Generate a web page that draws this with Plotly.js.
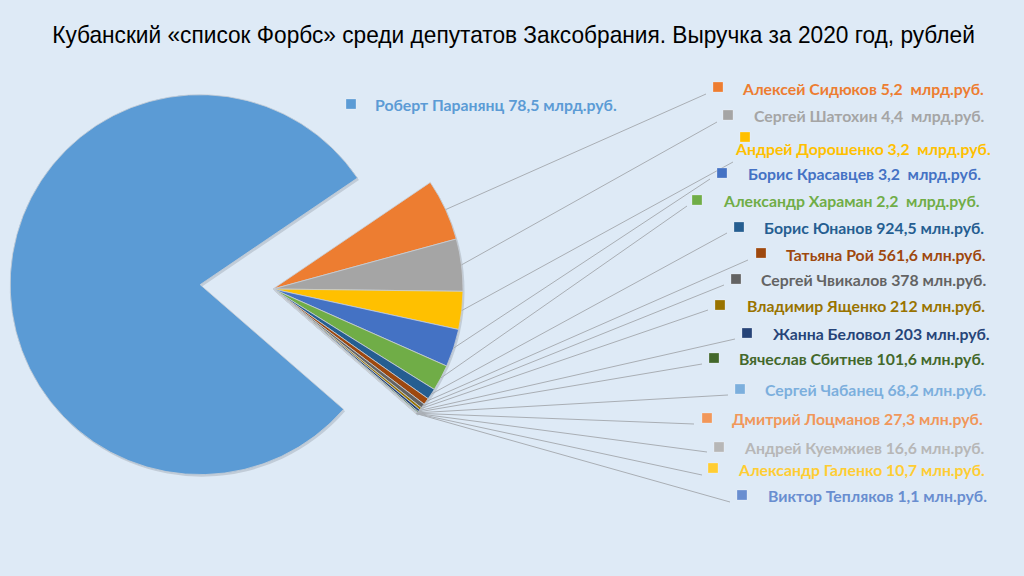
<!DOCTYPE html>
<html><head><meta charset="utf-8">
<script src="https://cdn.plot.ly/plotly-3.0.1.min.js"></script>
<style>html,body{margin:0;padding:0;background:#DEEAF6;}</style>
</head><body><div id="chart" style="width:1024px;height:576px;"></div>
<script>
// Data (values in billions of rubles)
const names = ["Роберт Паранянц","Алексей Сидюков","Сергей Шатохин","Андрей Дорошенко","Борис Красавцев","Александр Хараман","Борис Юнанов","Татьяна Рой","Сергей Чвикалов","Владимир Ященко","Жанна Беловол","Вячеслав Сбитнев","Сергей Чабанец","Дмитрий Лоцманов","Андрей Куемжиев","Александр Галенко","Виктор Тепляков"];
const values = [78.5, 5.2, 4.4, 3.2, 3.2, 2.2, 0.9245, 0.5616, 0.378, 0.212, 0.203, 0.1016, 0.0682, 0.0273, 0.0166, 0.0107, 0.0011];
const valueLabels = ["78,5 млрд.руб.","5,2\u00a0 млрд.руб.","4,4\u00a0 млрд.руб.","3,2\u00a0 млрд.руб.","3,2\u00a0 млрд.руб.","2,2\u00a0 млрд.руб.","924,5 млн.руб.","561,6 млн.руб.","378 млн.руб.","212 млн.руб.","203 млн.руб.","101,6 млн.руб.","68,2 млн.руб.","27,3 млн.руб.","16,6 млн.руб.","10,7 млн.руб.","1,1 млн.руб."];
const colors = ["#5B9BD5","#ED7D31","#A5A5A5","#FFC000","#4472C4","#70AD47","#255E91","#9E480E","#636363","#997300","#264478","#43682B","#7CAFDD","#F1975A","#B7B7B7","#FFCD33","#698ED0"];
const titleText = "Кубанский «список Форбс» среди депутатов Заксобрания. Выручка за 2020 год, рублей";

// Layout of label column (pixels): text x, text y, square x, square y, leader end x, leader end y
const labelLayout = [
  [373,104,351,104,null,null],
  [740,88,718,87,706,94],
  [752,115,728,115,717,122],
  [733,148,745,137,733,162],
  [746,173,722,173,710,179],
  [721,200,697,200,687,206],
  [762,227,739,227,727,233],
  [784,254,761,253,748,260],
  [759,279,736,279,724,285],
  [745,305,720,305,708,310],
  [771,333,747,333,735,339],
  [737,358,714,358,702,364],
  [763,389,740,389,728,395],
  [730,418,707,418,694,424],
  [742,447,719,447,707,452],
  [736,469,713,468,702,475],
  [766,495,742,495,730,502]
];

const W=1024, H=576, CX=273, CY=289, R=190, PULL=0.384, ROT=131;
const half = R*(1+PULL);
const domain = {x:[(CX-half)/W,(CX+half)/W], y:[(H-CY-half)/H,(H-CY+half)/H]};
const px = x => x/W, py = y => 1-y/H;

const pie = {
  type:'pie', values:values, labels:names, sort:false, direction:'clockwise', rotation:ROT,
  pull: values.map((v,i)=> i===0?PULL:0),
  marker:{colors:colors, line:{color:'#C8CED6', width:0.8}},
  textinfo:'none', hoverinfo:'label+value', domain:domain, showlegend:false
};
const shadow = {
  type:'pie', values:values, labels:names, sort:false, direction:'clockwise', rotation:ROT,
  pull: values.map((v,i)=> i===0?PULL:0),
  marker:{colors:values.map(()=> 'rgba(90,100,110,0.22)'), line:{width:0}},
  textinfo:'none', hoverinfo:'skip', showlegend:false,
  domain:{x:[domain.x[0]+1.5/W, domain.x[1]+1.5/W], y:[domain.y[0]-2/H, domain.y[1]-2/H]}
};

const total = values.reduce((a,b)=>a+b,0);
let cum = 0; const mids = [];
values.forEach(v => { mids.push(ROT + (cum + v/2)/total*360); cum += v; });

const shapes = [], annotations = [];
values.forEach((v,i) => {
  const L = labelLayout[i];
  if (L[4] !== null) {
    const a = mids[i]*Math.PI/180;
    const sx = CX + R*Math.sin(a), sy = CY - R*Math.cos(a);
    shapes.push({type:'line', xref:'paper', yref:'paper', x0:px(sx), y0:py(sy), x1:px(L[4]), y1:py(L[5]),
      line:{color:'#A9AEB4', width:1}});
  }
  shapes.push({type:'rect', xref:'paper', yref:'paper', x0:px(L[2]-5), x1:px(L[2]+5), y0:py(L[3]-5), y1:py(L[3]+5),
    fillcolor:colors[i], line:{color:'rgba(255,255,255,0.5)', width:0.5}});
  annotations.push({xref:'paper', yref:'paper', x:px(L[0]), y:py(L[1]), xanchor:'left', yanchor:'middle',
    showarrow:false, text:'<b>'+names[i]+' '+valueLabels[i]+'</b>',
    font:{family:'Lato, "Open Sans", sans-serif', size:15.8, color:colors[i]}});
});

const layout = {
  width:W, height:H, margin:{l:0,r:0,t:0,b:0},
  paper_bgcolor:'#DEEAF6', plot_bgcolor:'#DEEAF6',
  title:{text:titleText, x:0.5015, xanchor:'center', y:py(35), yanchor:'middle',
    font:{family:'"Liberation Sans", Arial, sans-serif', size:24, color:'#000'}},
  shapes:shapes, annotations:annotations, showlegend:false
};
Plotly.newPlot('chart', [shadow, pie], layout, {displayModeBar:false, staticPlot:true}).then(() => {
  // emulate a narrow title face by horizontal scaling
  const t = document.querySelector('.gtitle');
  if (t) {
    const bb = t.getBBox();
    const s = 923 / bb.width, c = bb.x + bb.width/2;
    t.setAttribute('transform', 'translate(513.5,0) scale(' + s + ',1) translate(' + (-c) + ',0)');
  }
});
</script></body></html>
